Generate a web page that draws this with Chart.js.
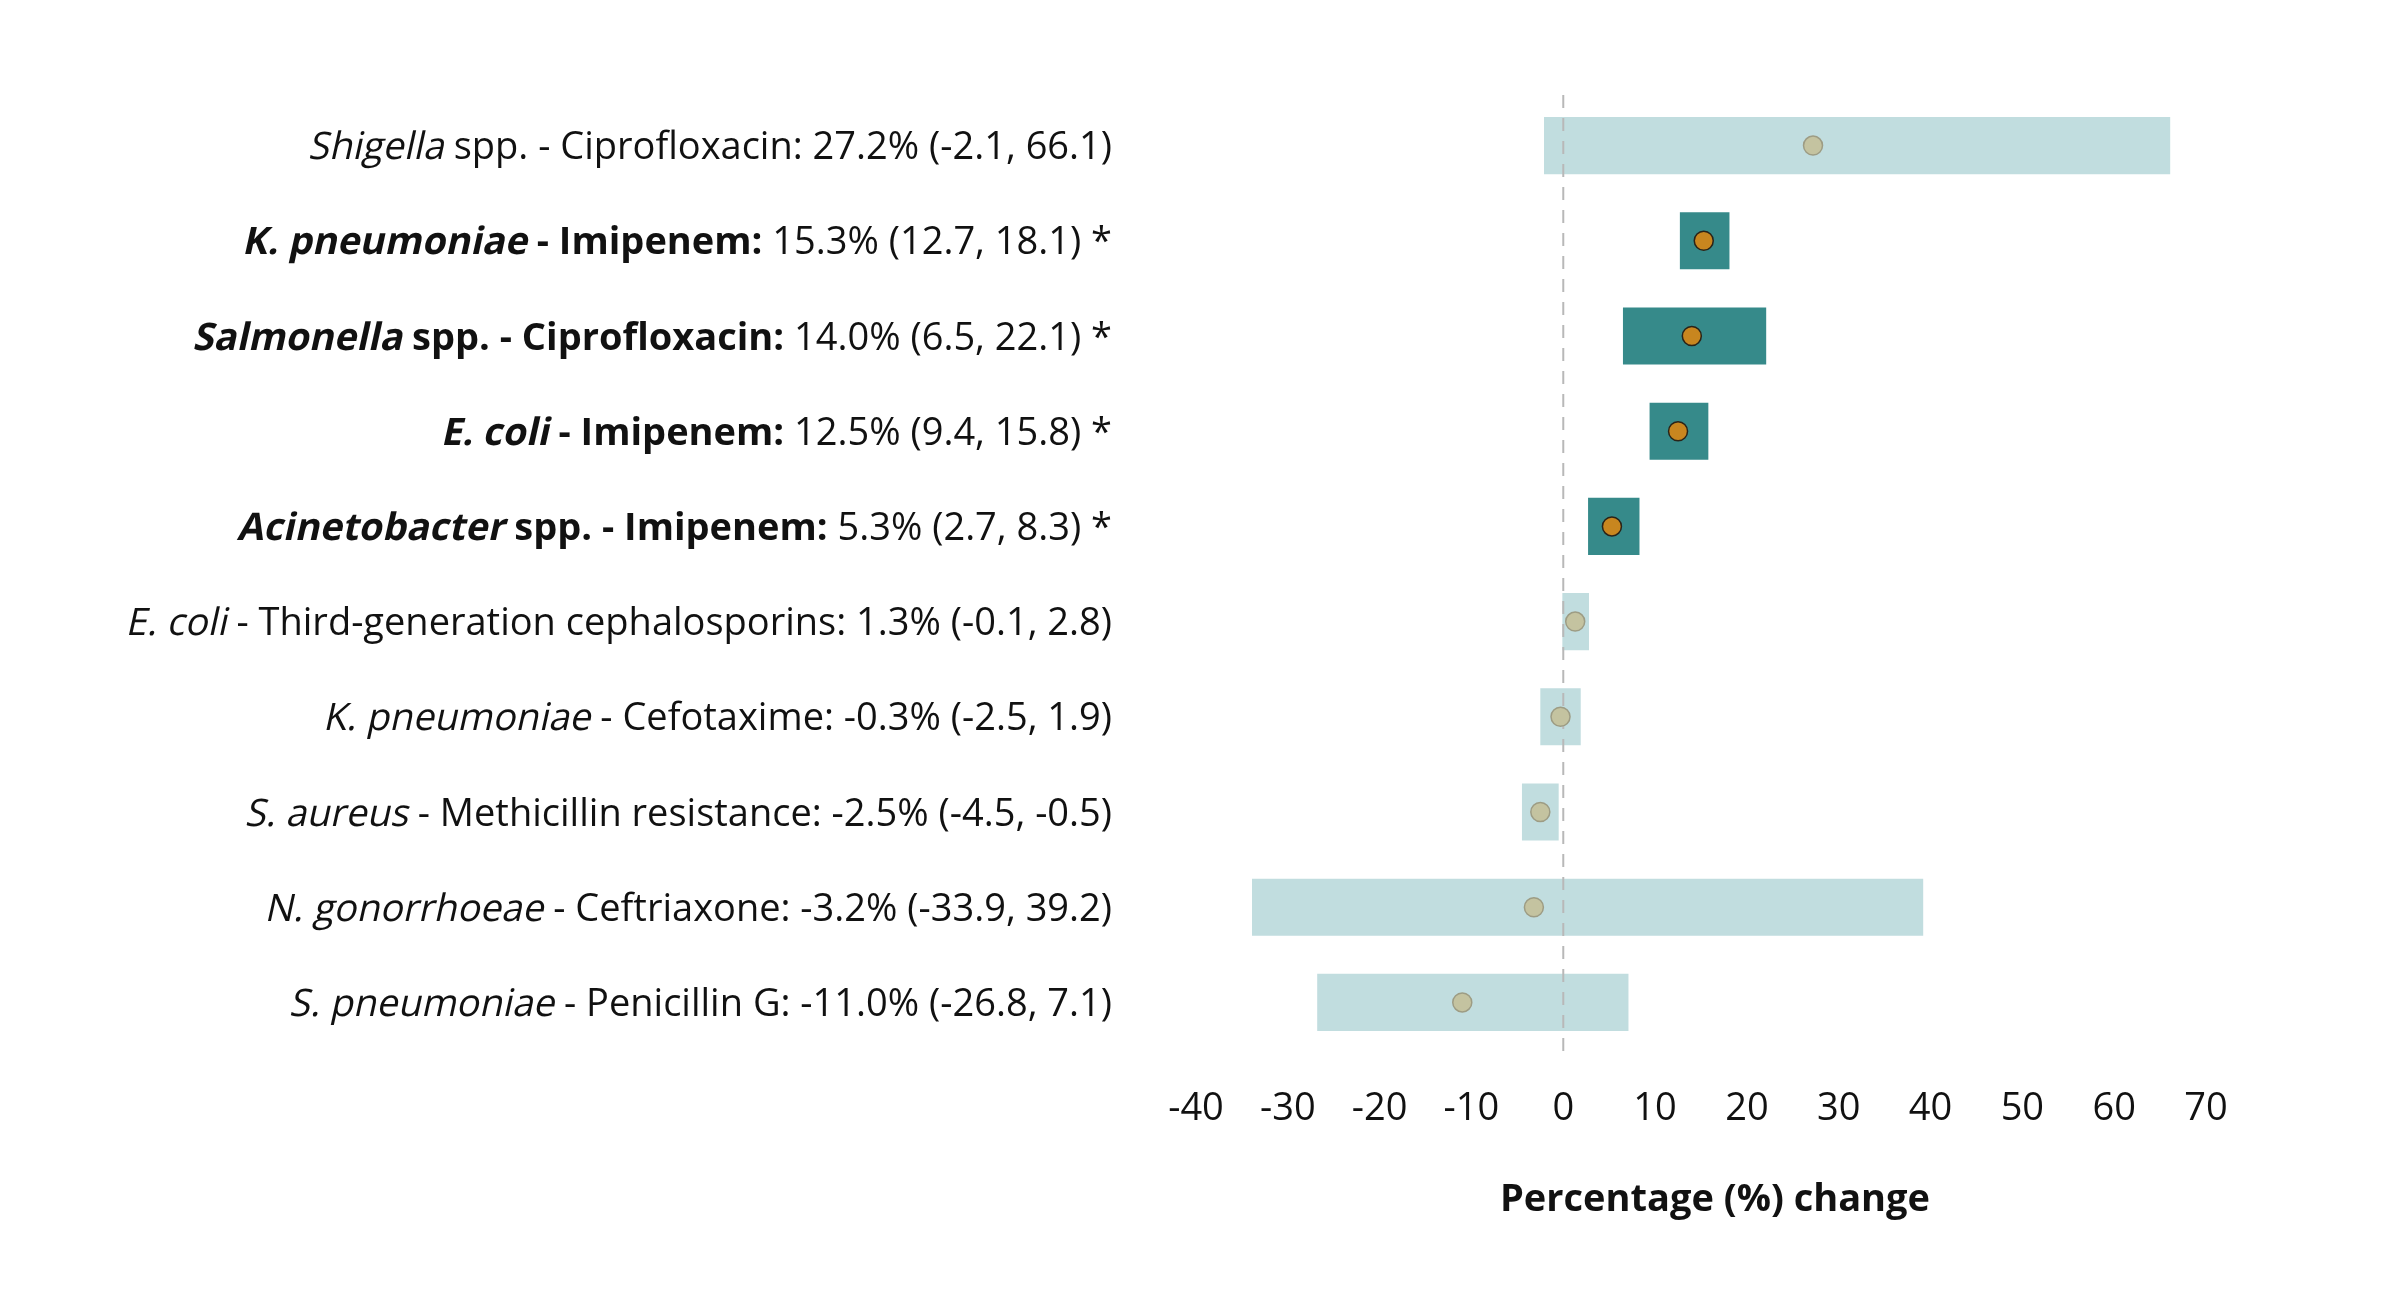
<!DOCTYPE html>
<html>
<head>
<meta charset="utf-8">
<script src="https://cdn.jsdelivr.net/npm/chart.js@4.4.1/dist/chart.umd.min.js"></script>
<style>
  html, body { margin: 0; padding: 0; background: #ffffff; }
  #wrap { width: 2399px; height: 1300px; }
</style>
</head>
<body>
<div id="wrap"><canvas id="c" width="2399" height="1300"></canvas></div>
<script>
// ---- data ----
const organisms = ["Shigella", "K. pneumoniae", "Salmonella", "E. coli", "Acinetobacter",
                   "E. coli", "K. pneumoniae", "S. aureus", "N. gonorrhoeae", "S. pneumoniae"];
const organismSuffix = [" spp.", "", " spp.", "", " spp.", "", "", "", "", ""];
const drugs = ["Ciprofloxacin", "Imipenem", "Ciprofloxacin", "Imipenem", "Imipenem",
               "Third-generation cephalosporins", "Cefotaxime", "Methicillin resistance",
               "Ceftriaxone", "Penicillin G"];
const estimates = [27.2, 15.3, 14.0, 12.5, 5.3, 1.3, -0.3, -2.5, -3.2, -11.0];
const lowerCI   = [-2.1, 12.7, 6.5, 9.4, 2.7, -0.1, -2.5, -4.5, -33.9, -26.8];
const upperCI   = [66.1, 18.1, 22.1, 15.8, 8.3, 2.8, 1.9, -0.5, 39.2, 7.1];
const significant = [false, true, true, true, true, false, false, false, false, false];
const xTicks = [-40, -30, -20, -10, 0, 10, 20, 30, 40, 50, 60, 70];
const xTitle = "Percentage (%) change";

// ---- derived ----
const categories = organisms.map((o, i) => o + organismSuffix[i] + " - " + drugs[i]);
const FONT = "'Open Sans', 'Noto Sans', sans-serif";
const FS = 38;
const SKEW = 0.22;

const darkBar = "#368a8a", lightBar = "#c1dddf";
const sigPoint = "#c8861f", sigBorder = "#2a2318";
const nsPoint = "#c4c3a0", nsBorder = "#9d9c84";

const labelPlugin = {
  id: 'rowLabels',
  afterDraw(chart) {
    const ctx = chart.ctx;
    const yScale = chart.scales.y;
    const rightX = 1112;
    ctx.save();
    ctx.textBaseline = 'alphabetic';
    ctx.textAlign = 'left';
    ctx.fillStyle = '#111111';
    categories.forEach((cat, i) => {
      const yc = yScale.getPixelForValue(i);
      const base = yc + FS * 0.36;
      const sig = significant[i];
      const w = sig ? 'bold ' : '';
      const parts = [
        { t: organisms[i], f: w + FS + 'px ' + FONT, oblique: true },
        { t: organismSuffix[i] + " - " + drugs[i] + ":", f: w + FS + 'px ' + FONT },
        { t: " " + estimates[i].toFixed(1) + "% (" + lowerCI[i].toFixed(1) + ", " + upperCI[i].toFixed(1) + ")" + (sig ? " *" : ""),
          f: FS + 'px ' + FONT }
      ];
      let total = 0;
      parts.forEach(p => { ctx.font = p.f; p.w = ctx.measureText(p.t).width; total += p.w; });
      let x = rightX - total;
      parts.forEach(p => {
        ctx.font = p.f;
        if (p.oblique) {
          ctx.save();
          ctx.translate(x, base);
          ctx.transform(1, 0, -SKEW, 1, 0, 0);
          ctx.fillText(p.t, 0, 0);
          ctx.restore();
        } else {
          ctx.fillText(p.t, x, base);
        }
        x += p.w;
      });
    });
    // axis title (slightly right of the plot centre, as in the reference)
    const area = chart.chartArea;
    ctx.font = 'bold ' + FS + 'px ' + FONT;
    ctx.textAlign = 'center';
    ctx.textBaseline = 'middle';
    ctx.fillText(xTitle, (area.left + area.right) / 2 + 14, 1200);
    ctx.restore();
  }
};

const zeroLinePlugin = {
  id: 'zeroLine',
  afterDatasetDraw(chart, args) {
    if (args.index !== 0) return;
    const ctx = chart.ctx;
    const x = chart.scales.x.getPixelForValue(0);
    const area = chart.chartArea;
    ctx.save();
    ctx.strokeStyle = '#b8b8b8';
    ctx.lineWidth = 2;
    ctx.setLineDash([13, 10]);
    ctx.beginPath();
    ctx.moveTo(x, area.top - 3);
    ctx.lineTo(x, area.bottom + 5);
    ctx.stroke();
    ctx.restore();
  }
};

new Chart(document.getElementById('c'), {
  data: {
    labels: categories,
    datasets: [
      {
        type: 'bar',
        indexAxis: 'y',
        data: categories.map((c, i) => [lowerCI[i], upperCI[i]]),
        backgroundColor: significant.map(s => s ? darkBar : lightBar),
        borderWidth: 0,
        barPercentage: 0.6,
        categoryPercentage: 1.0,
        order: 2
      },
      {
        type: 'scatter',
        data: categories.map((c, i) => ({ x: estimates[i], y: c })),
        pointRadius: 9.5,
        pointBackgroundColor: significant.map(s => s ? sigPoint : nsPoint),
        pointBorderColor: significant.map(s => s ? sigBorder : nsBorder),
        pointBorderWidth: 1.5,
        order: 1
      }
    ]
  },
  options: {
    responsive: false,
    animation: false,
    devicePixelRatio: 1,
    layout: { padding: { left: 1196, right: 193, top: 98, bottom: 0 } },
    plugins: { legend: { display: false }, tooltip: { enabled: false } },
    scales: {
      y: {
        type: 'category',
        display: false,
        offset: true
      },
      x: {
        type: 'linear',
        min: -40,
        max: 70,
        afterBuildTicks(scale) { scale.ticks = xTicks.map(v => ({ value: v })); },
        afterFit(scale) { scale.height = 250; },
        grid: { display: false, drawTicks: false },
        border: { display: false },
        ticks: {
          padding: 36,
          color: '#111111',
          font: { family: FONT, size: FS },
          callback: v => String(v)
        },
        title: { display: false }
      }
    }
  },
  plugins: [labelPlugin, zeroLinePlugin]
});
</script>
</body>
</html>
